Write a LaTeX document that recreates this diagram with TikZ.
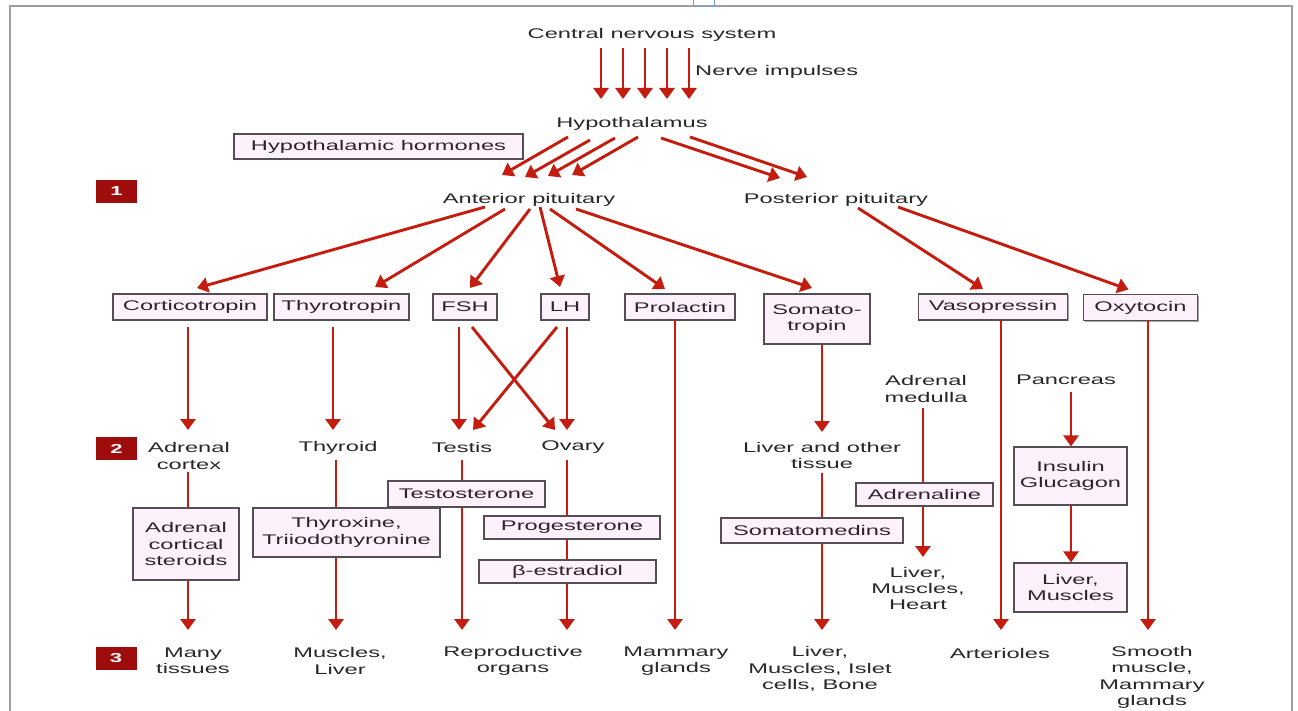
\documentclass[tikz,border=0pt]{standalone}
\usepackage{fontspec}
\setmainfont{Liberation Sans}[FakeStretch=1.69]
\usetikzlibrary{arrows.meta,shadows}
\definecolor{arrred}{RGB}{196,28,14}
\definecolor{boxfill}{RGB}{253,242,251}
\definecolor{boxline}{RGB}{85,78,85}
\definecolor{numred}{RGB}{158,12,12}
\definecolor{txt}{RGB}{40,40,40}
\definecolor{boxtxt}{RGB}{50,34,48}
\definecolor{framegray}{RGB}{160,160,160}
\definecolor{handle}{RGB}{120,160,210}
\begin{document}
\begin{tikzpicture}[x=1pt,y=-1pt,
  lbl/.style={font=\fontsize{14}{16.3}\selectfont, text=txt, inner sep=0pt, align=center},
  plbl/.style={lbl, yshift=-1.5pt},
  hbox/.style={lbl, text=boxtxt, draw=boxline, line width=1.2pt, fill=boxfill,
    drop shadow={shadow xshift=1.2pt, shadow yshift=-1.2pt, opacity=.35, fill=black}},
  arr/.style={draw=arrred, line width=2.9pt, -{Triangle[width=15pt,length=11pt]}},
  ln/.style={draw=arrred, line width=2.9pt},
  num/.style={fill=numred, text=white, font=\fontsize{13}{13}\selectfont\bfseries,
    minimum width=41pt, minimum height=23pt, inner sep=0pt}]
\fill[white] (0,0) rectangle (1298,711);
\useasboundingbox (0,0) rectangle (1298,711);
% frame
\draw[framegray, line width=1.5pt] (10,711) -- (10,6) -- (1292,6) -- (1292,711);
\draw[handle, line width=1pt] (693,0) -- (693,7) -- (714,7) -- (714,0);

% top labels
\node[plbl] (cns) at (652,33) {Central nervous system};
\node[plbl, anchor=west] (nerve) at (695,70) {Nerve impulses};
\node[plbl] (hyp) at (632,122) {Hypothalamus};
\node[hbox, minimum width=289pt, minimum height=25pt] (hh) at (378.5,146.5) {Hypothalamic hormones};
\node[plbl] (ap) at (529,198) {Anterior pituitary};
\node[plbl] (pp) at (836,198) {Posterior pituitary};

% number squares
\node[num] (n1) at (116.5,191.5) {1};
\node[num] (n2) at (116.5,448.5) {2};
\node[num] (n3) at (116,658.5) {3};

% hormone boxes row
\node[hbox, minimum width=154pt, minimum height=26pt] (cort) at (190,307) {Corticotropin};
\node[hbox, minimum width=135pt, minimum height=26pt] (thyt) at (341.5,307) {Thyrotropin};
\node[hbox, minimum width=64pt, minimum height=26pt] (fsh) at (465,307) {FSH};
\node[hbox, minimum width=48pt, minimum height=26pt] (lh) at (565,307) {LH};
\node[hbox, minimum width=110pt, minimum height=26pt] (prl) at (680,307) {Prolactin};
\node[hbox, minimum width=106pt, minimum height=50pt] (som) at (817,319) {Somato-\\tropin};
\node[hbox, minimum width=149pt, minimum height=26pt] (vaso) at (993,307) {Vasopressin};
\node[hbox, minimum width=114pt, minimum height=26pt] (oxy) at (1140.5,307.5) {Oxytocin};

% level 2 labels
\node[plbl] (ac) at (189,454.5) {Adrenal\\cortex};
\node[plbl] (thyroid) at (338,446) {Thyroid};
\node[plbl] (testis) at (462,446) {Testis};
\node[plbl] (ovary) at (573,446) {Ovary};
\node[plbl] (liver) at (822,454) {Liver and other\\tissue};
\node[plbl] (medulla) at (926,387.5) {Adrenal\\medulla};
\node[plbl] (pancreas) at (1066,378) {Pancreas};

% intermediate boxes
\node[hbox, minimum width=106pt, minimum height=72pt] (acs) at (186,544) {Adrenal\\cortical\\steroids};
\node[hbox, minimum width=187pt, minimum height=49pt] (thx) at (346.5,532.5) {Thyroxine,\\Triiodothyronine};
\node[hbox, minimum width=157pt, minimum height=26pt] (tst) at (466.5,494) {Testosterone};
\node[hbox, minimum width=176pt, minimum height=23pt] (prog) at (572,527.5) {Progesterone};
\node[hbox, minimum width=177pt, minimum height=23pt] (estr) at (567.5,571.5) {β-estradiol};
\node[hbox, minimum width=182pt, minimum height=25pt] (smd) at (812,530.5) {Somatomedins};
\node[hbox, minimum width=137pt, minimum height=23pt] (adr) at (924.5,494.5) {Adrenaline};
\node[hbox, minimum width=113pt, minimum height=58pt] (ins) at (1070.5,476) {Insulin\\Glucagon};
\node[hbox, minimum width=113pt, minimum height=49pt] (lmb) at (1070.5,587.5) {Liver,\\Muscles};
\node[plbl] (lmh) at (918,587) {Liver,\\Muscles,\\Heart};

% level 3 labels
\node[plbl] (many) at (193,659.5) {Many\\tissues};
\node[plbl] (musliv) at (340,659.5) {Muscles,\\Liver};
\node[plbl] (repro) at (513,659.5) {Reproductive\\organs};
\node[plbl] (mamm) at (676,659.5) {Mammary\\glands};
\node[plbl] (lmi) at (820,667.5) {Liver,\\Muscles, Islet\\cells, Bone};
\node[plbl] (art) at (1000,652) {Arterioles};
\node[plbl] (smooth) at (1152,676) {Smooth\\muscle,\\Mammary\\glands};

% CNS -> hypothalamus
\foreach \a/\b in {-51/-31,-29/-9,-7/13,15/35,37/57}
  \draw[arr] ([shift={(\a,13.5)}]cns.center) -- ([shift={(\b,-24.5)}]hyp.center);
% hypothalamus -> anterior pituitary
\foreach \a/\b/\c/\d in {-64/13.5/-27/-24.5,-42/16.5/-4/-22.5,-17/14.5/19/-23.5,6/13.5/43/-24.5}
  \draw[arr] ([shift={(\a,\b)}]hyp.center) -- ([shift={(\c,\d)}]ap.center);
% hypothalamus -> posterior pituitary
\foreach \a/\b/\c/\d in {29/14.5/-56/-21.5,58/13.5/-29/-22.5}
  \draw[arr] ([shift={(\a,\b)}]hyp.center) -- ([shift={(\c,\d)}]pp.center);

% anterior pituitary -> hormones
\draw[arr] ([shift={(-44,7.5)}]ap.center) -- ([shift={(7,-19)}]cort.center);
\draw[arr] ([shift={(-24,9.5)}]ap.center) -- ([shift={(33.5,-20)}]thyt.center);
\draw[arr] ([shift={(1,9.5)}]ap.center) -- ([shift={(5,-19)}]fsh.center);
\draw[arr] ([shift={(11,7.5)}]ap.center) -- ([shift={(-5,-20)}]lh.center);
\draw[arr] ([shift={(21,9.5)}]ap.center) -- ([shift={(-15,-18)}]prl.center);
\draw[arr] ([shift={(47,9.5)}]ap.center) -- ([shift={(-5,-31)}]som.center);
% posterior pituitary -> hormones
\draw[arr] ([shift={(22,8.5)}]pp.center) -- ([shift={(-10,-18)}]vaso.center);
\draw[arr] ([shift={(62,7.5)}]pp.center) -- ([shift={(-12,-18)}]oxy.center);

% hormones -> level 2
\draw[arr] ([shift={(-2,20)}]cort.center) -- ([shift={(-1,-26)}]ac.center);
\draw[arr] ([shift={(-8.5,20)}]thyt.center) -- ([shift={(-5,-17.5)}]thyroid.center);
\draw[arr] ([shift={(-6,20)}]fsh.center) -- ([shift={(-3,-17.5)}]testis.center);
\draw[arr] ([shift={(7,20)}]fsh.center) -- ([shift={(-18,-17.5)}]ovary.center);
\draw[arr] ([shift={(-8,20)}]lh.center) -- ([shift={(11,-17.5)}]testis.center);
\draw[arr] ([shift={(2,20)}]lh.center) -- ([shift={(-6,-17.5)}]ovary.center);
\draw[arr] ([shift={(5,26)}]som.center) -- ([shift={(0,-23.5)}]liver.center);

% long arrows to level 3
\draw[arr] ([shift={(-5,13)}]prl.center) -- ([shift={(-1,-31)}]mamm.center);
\draw[arr] ([shift={(8,13)}]vaso.center) -- ([shift={(1,-23.5)}]art.center);
\draw[arr] ([shift={(7.5,12.5)}]oxy.center) -- ([shift={(-4,-47.5)}]smooth.center);

% level 2 -> level 3 chains
\draw[ln] ([shift={(-1,16)}]ac.center) -- ([xshift=2pt]acs.north);
\draw[arr] ([xshift=2pt]acs.south) -- ([shift={(-5,-31)}]many.center);
\draw[ln] ([shift={(-2,12.5)}]thyroid.center) -- ([xshift=-10.5pt]thx.north);
\draw[arr] ([xshift=-10.5pt]thx.south) -- ([shift={(-4,-31)}]musliv.center);
\draw[ln] ([shift={(0,12.5)}]testis.center) -- ([xshift=-4.5pt]tst.north);
\draw[arr] ([xshift=-4.5pt]tst.south) -- ([shift={(-51,-31)}]repro.center);
\draw[ln] ([shift={(-6,12.5)}]ovary.center) -- ([xshift=-5pt]prog.north);
\draw[ln] ([xshift=-5pt]prog.south) -- ([xshift=-0.5pt]estr.north);
\draw[arr] ([xshift=-0.5pt]estr.south) -- ([shift={(54,-31)}]repro.center);
\draw[ln] ([shift={(0,17.5)}]liver.center) -- ([xshift=10pt]smd.north);
\draw[arr] ([xshift=10pt]smd.south) -- ([shift={(2,-39)}]lmi.center);
\draw[ln] ([shift={(-3,19)}]medulla.center) -- ([xshift=-1.5pt]adr.north);
\draw[arr] ([xshift=-1.5pt]adr.south) -- ([shift={(5,-31.5)}]lmh.center);
\draw[arr] ([shift={(5,12.5)}]pancreas.center) -- ([xshift=0.5pt]ins.north);
\draw[arr] ([xshift=0.5pt]ins.south) -- ([xshift=0.5pt]lmb.north);
\end{tikzpicture}
\end{document}
